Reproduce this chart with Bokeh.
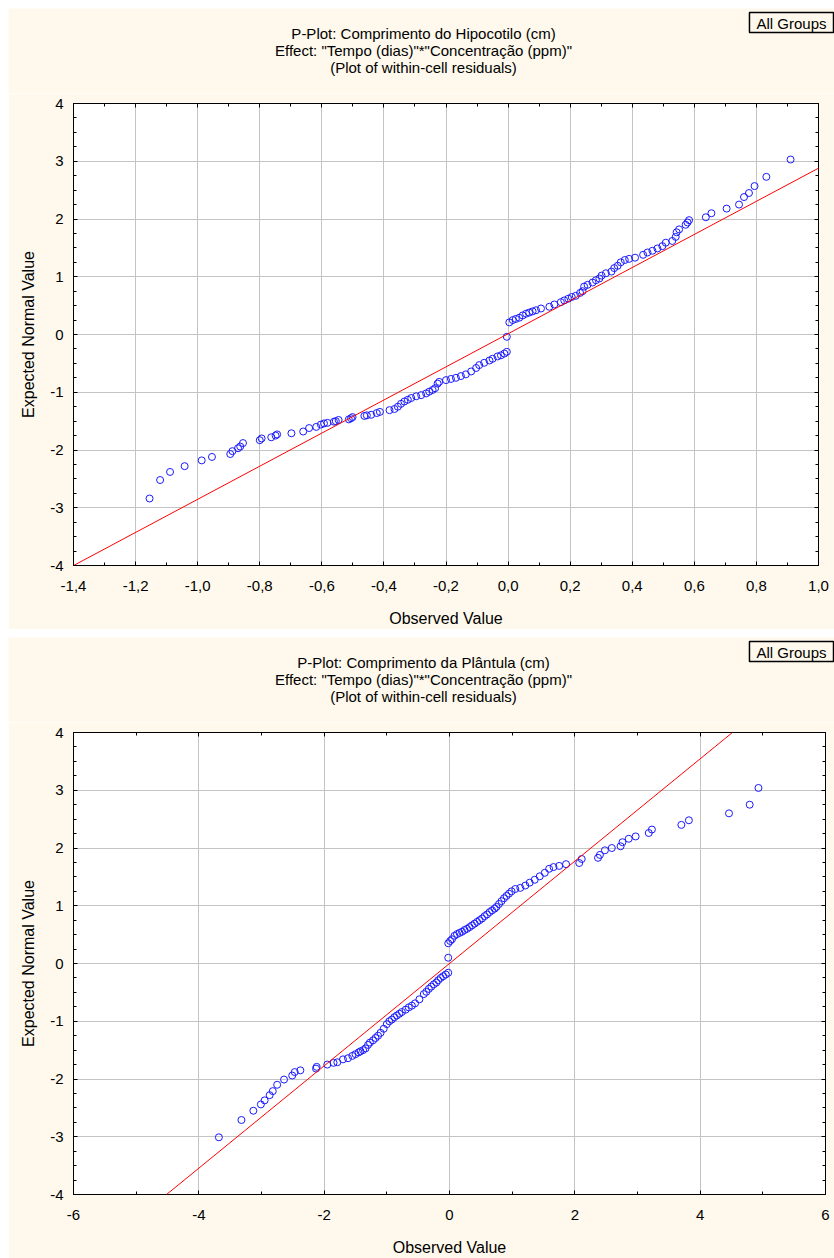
from bokeh.plotting import figure
from bokeh.layouts import column
from bokeh.models import (FixedTicker, Slope, Label, LinearAxis, Range1d,
                          ColumnDataSource, CustomJSTickFormatter)
from bokeh.embed import file_html
from bokeh.resources import INLINE

FONT = "Liberation Sans"
CREAM = "#FEF9EC"

# ---------------- Chart 1: Hipocotilo ----------------
hypo_title = "P-Plot: Comprimento do Hipocotilo (cm)"
hypo_observed = [-1.155, -1.121, -1.089, -1.042, -0.987, -0.954, -0.895, -0.888, -0.870, -0.863,
                 -0.854, -0.800, -0.794, -0.763, -0.749, -0.744, -0.698, -0.660, -0.641, -0.618,
                 -0.603, -0.593, -0.582, -0.561, -0.555, -0.546, -0.513, -0.506, -0.501, -0.463,
                 -0.455, -0.441, -0.423, -0.413, -0.382, -0.366, -0.355, -0.345, -0.334, -0.323,
                 -0.312, -0.296, -0.280, -0.264, -0.254, -0.243, -0.235, -0.227, -0.222, -0.200,
                 -0.184, -0.168, -0.152, -0.136, -0.119, -0.103, -0.093, -0.077, -0.060, -0.050,
                 -0.034, -0.023, -0.012, -0.004, -0.004, 0.004, 0.015, 0.025, 0.036, 0.047,
                 0.058, 0.068, 0.079, 0.090, 0.106, 0.133, 0.149, 0.170, 0.181, 0.194,
                 0.205, 0.218, 0.232, 0.240, 0.245, 0.256, 0.272, 0.283, 0.294, 0.301,
                 0.315, 0.333, 0.342, 0.353, 0.363, 0.376, 0.390, 0.409, 0.435, 0.449,
                 0.465, 0.481, 0.497, 0.508, 0.529, 0.540, 0.543, 0.551, 0.572, 0.578,
                 0.583, 0.637, 0.655, 0.704, 0.744, 0.760, 0.776, 0.794, 0.832, 0.910]
hypo_expected = [-2.84, -2.52, -2.38, -2.28, -2.18, -2.12, -2.07, -2.02, -1.97, -1.94,
                 -1.88, -1.83, -1.80, -1.78, -1.75, -1.73, -1.71, -1.68, -1.62, -1.60,
                 -1.56, -1.54, -1.53, -1.51, -1.50, -1.48, -1.47, -1.45, -1.43, -1.41,
                 -1.40, -1.39, -1.36, -1.34, -1.31, -1.29, -1.25, -1.20, -1.16, -1.13,
                 -1.10, -1.07, -1.05, -1.02, -0.99, -0.96, -0.93, -0.85, -0.82, -0.79,
                 -0.77, -0.75, -0.72, -0.69, -0.64, -0.58, -0.53, -0.49, -0.45, -0.42,
                 -0.38, -0.36, -0.33, -0.30, -0.04, 0.21, 0.25, 0.27, 0.29, 0.33,
                 0.36, 0.38, 0.40, 0.42, 0.45, 0.48, 0.52, 0.56, 0.59, 0.62,
                 0.65, 0.67, 0.72, 0.75, 0.83, 0.86, 0.90, 0.94, 0.97, 1.02,
                 1.06, 1.09, 1.15, 1.19, 1.25, 1.29, 1.31, 1.33, 1.38, 1.42,
                 1.45, 1.49, 1.53, 1.59, 1.62, 1.69, 1.77, 1.82, 1.90, 1.94,
                 1.98, 2.03, 2.10, 2.18, 2.25, 2.38, 2.45, 2.57, 2.73, 3.03]
hypo_fit_slope = 2.867
hypo_fit_intercept = 0.013
hypo_x_ticks = [-1.4, -1.2, -1.0, -0.8, -0.6, -0.4, -0.2, 0.0, 0.2, 0.4, 0.6, 0.8, 1.0]
hypo_x_labels = ["-1,4", "-1,2", "-1,0", "-0,8", "-0,6", "-0,4", "-0,2", "0,0",
                 "0,2", "0,4", "0,6", "0,8", "1,0"]

# ---------------- Chart 2: Plântula ----------------
plant_title = "P-Plot: Comprimento da Plântula (cm)"
plant_observed = [-3.68, -3.32, -3.13, -3.01, -2.95, -2.87, -2.82, -2.75, -2.64, -2.51,
                  -2.47, -2.38, -2.13, -2.12, -1.95, -1.85, -1.79, -1.70, -1.62, -1.55,
                  -1.50, -1.45, -1.42, -1.38, -1.34, -1.30, -1.27, -1.22, -1.18, -1.14,
                  -1.10, -1.05, -1.00, -0.96, -0.92, -0.88, -0.84, -0.80, -0.76, -0.70,
                  -0.65, -0.60, -0.55, -0.48, -0.41, -0.37, -0.33, -0.29, -0.25, -0.21,
                  -0.18, -0.14, -0.10, -0.06, -0.02, -0.02, -0.02, 0.01, 0.04, 0.08,
                  0.12, 0.16, 0.20, 0.24, 0.28, 0.32, 0.36, 0.40, 0.44, 0.48,
                  0.52, 0.56, 0.60, 0.64, 0.68, 0.72, 0.75, 0.79, 0.83, 0.87,
                  0.91, 0.95, 0.99, 1.05, 1.13, 1.21, 1.28, 1.36, 1.44, 1.52,
                  1.59, 1.66, 1.75, 1.86, 2.07, 2.11, 2.37, 2.40, 2.48, 2.59,
                  2.73, 2.76, 2.86, 2.97, 3.18, 3.23, 3.70, 3.82, 4.46, 4.79, 4.93]
plant_expected = [-3.01, -2.71, -2.55, -2.44, -2.37, -2.28, -2.21, -2.10, -2.01, -1.94,
                  -1.88, -1.85, -1.82, -1.79, -1.75, -1.72, -1.71, -1.66, -1.64, -1.60,
                  -1.57, -1.54, -1.52, -1.50, -1.47, -1.41, -1.37, -1.33, -1.29, -1.25,
                  -1.20, -1.13, -1.05, -1.00, -0.97, -0.93, -0.90, -0.87, -0.84, -0.80,
                  -0.76, -0.73, -0.69, -0.62, -0.53, -0.49, -0.44, -0.40, -0.36, -0.33,
                  -0.29, -0.25, -0.22, -0.19, -0.16, 0.10, 0.35, 0.39, 0.42, 0.48,
                  0.51, 0.53, 0.55, 0.58, 0.60, 0.63, 0.66, 0.69, 0.72, 0.75,
                  0.78, 0.82, 0.85, 0.89, 0.92, 0.95, 0.98, 1.03, 1.08, 1.13,
                  1.17, 1.21, 1.25, 1.29, 1.31, 1.35, 1.40, 1.45, 1.51, 1.57,
                  1.64, 1.67, 1.69, 1.72, 1.74, 1.81, 1.83, 1.88, 1.96, 2.00,
                  2.03, 2.10, 2.16, 2.20, 2.26, 2.32, 2.40, 2.48, 2.60, 2.75, 3.04]
plant_fit_slope = 0.886
plant_fit_intercept = 0.0
plant_x_ticks = [-6, -4, -2, 0, 2, 4, 6]
plant_x_labels = ["-6", "-4", "-2", "0", "2", "4", "6"]

# ---------------- shared ----------------
effect_line = 'Effect: "Tempo (dias)"*"Concentração (ppm)"'
residual_line = "(Plot of within-cell residuals)"
group_label = "All Groups"
x_axis_title = "Observed Value"
y_axis_title = "Expected Normal Value"
y_ticks = [-4, -3, -2, -1, 0, 1, 2, 3, 4]
y_labels = ["-4", "-3", "-2", "-1", "0", "1", "2", "3", "4"]

# layout (pixels)
FIG_W = 826
HEAD_H = 85
PLOT_H = 536
BORDER_L, BORDER_T, BORDER_B = 65, 10, 62
TITLE_CX = 415
TITLE_CY = [25, 42, 59]
BOX_RIGHT, BOX_TOP = 825, 4


def minor_between(ticks, n):
    out = []
    for a, b in zip(ticks[:-1], ticks[1:]):
        for k in range(1, n + 1):
            out.append(a + (b - a) * k / (n + 1))
    return out


def style_axis(ax, labelled):
    ax.axis_line_color = "black"
    ax.axis_line_width = 1
    ax.major_tick_in = 4
    ax.major_tick_out = 0
    ax.minor_tick_in = 3
    ax.minor_tick_out = 0
    ax.major_tick_line_color = "black"
    ax.minor_tick_line_color = "black"
    ax.major_label_text_font = FONT
    ax.major_label_text_font_size = "15px"
    ax.major_label_text_color = "black"
    ax.axis_label_text_font = FONT
    ax.axis_label_text_font_size = "16px"
    ax.axis_label_text_font_style = "normal"
    ax.axis_label_text_color = "black"
    if not labelled:
        ax.major_label_text_font_size = "0px"
        ax.major_label_standoff = 0


def make_header(title):
    h = figure(width=FIG_W, height=HEAD_H, x_range=Range1d(0, FIG_W), y_range=Range1d(HEAD_H, 0),
               x_axis_type=None, y_axis_type=None, output_backend="svg", toolbar_location=None,
               min_border=0, background_fill_color=CREAM, border_fill_color=CREAM,
               outline_line_color=None)
    h.frame_align = False
    h.xgrid.visible = False
    h.ygrid.visible = False
    h.margin = (8, 0, 0, 8)
    for txt, cy in zip([title, effect_line, residual_line], TITLE_CY):
        h.add_layout(Label(x=TITLE_CX, y=cy, text=txt, text_font=FONT,
                           text_font_size="15px", text_color="black",
                           text_align="center", text_baseline="middle"))
    h.add_layout(Label(x=BOX_RIGHT, y=BOX_TOP, text=group_label,
                       text_font=FONT, text_font_size="15px", text_color="black",
                       text_align="right", text_baseline="top",
                       border_line_color="black", border_line_width=1.5,
                       background_fill_color=CREAM,
                       padding=dict(left=7, right=7, top=2, bottom=1)))
    return h


def make_panel(obs, exp, slope, intercept, xr, x_ticks, x_labels, right_border):
    p = figure(width=FIG_W, height=PLOT_H, x_range=Range1d(*xr), y_range=Range1d(-4, 4),
               output_backend="svg", toolbar_location=None,
               min_border_left=BORDER_L, min_border_right=right_border,
               min_border_top=BORDER_T, min_border_bottom=BORDER_B,
               background_fill_color="white", border_fill_color=CREAM,
               outline_line_color="black", outline_line_width=1)
    p.frame_align = False
    p.margin = (0, 0, 0, 8)

    xt = FixedTicker(ticks=x_ticks, minor_ticks=minor_between(x_ticks, 1))
    yt = FixedTicker(ticks=y_ticks, minor_ticks=minor_between(y_ticks, 3))

    xa = p.xaxis[0]
    xa.ticker = xt
    xa.major_label_overrides = dict(zip(x_ticks, x_labels))
    xa.axis_label = x_axis_title
    style_axis(xa, True)
    xa.major_label_standoff = 15
    xa.axis_label_standoff = 16

    ya = p.yaxis[0]
    ya.ticker = yt
    ya.major_label_overrides = dict(zip(y_ticks, y_labels))
    ya.axis_label = y_axis_title
    style_axis(ya, True)
    ya.major_label_standoff = 10
    ya.axis_label_standoff = 10

    top = LinearAxis(ticker=xt, formatter=CustomJSTickFormatter(code="return ''"))
    style_axis(top, False)
    p.add_layout(top, "above")
    right = LinearAxis(ticker=yt, formatter=CustomJSTickFormatter(code="return ''"))
    style_axis(right, False)
    p.add_layout(right, "right")

    p.xgrid.ticker = xt
    p.ygrid.ticker = yt
    for g in (p.xgrid[0], p.ygrid[0]):
        g.grid_line_color = "#C4C4C4"
        g.grid_line_width = 1

    p.add_layout(Slope(gradient=slope, y_intercept=intercept, line_color="#FF0000", line_width=1))

    src = ColumnDataSource(dict(x=obs, y=exp))
    p.scatter("x", "y", source=src, marker="circle", size=7, fill_color=None,
              line_color="#1A1AFF", line_width=1)
    return p


h1 = make_header(hypo_title)
p1 = make_panel(hypo_observed, hypo_expected, hypo_fit_slope, hypo_fit_intercept,
                (-1.4, 1.0), hypo_x_ticks, hypo_x_labels, 16)
h2 = make_header(plant_title)
p2 = make_panel(plant_observed, plant_expected, plant_fit_slope, plant_fit_intercept,
                (-6, 6), plant_x_ticks, plant_x_labels, 9)

layout = column(h1, p1, h2, p2, spacing=0)
open("out.html", "w").write(file_html(layout, INLINE))
